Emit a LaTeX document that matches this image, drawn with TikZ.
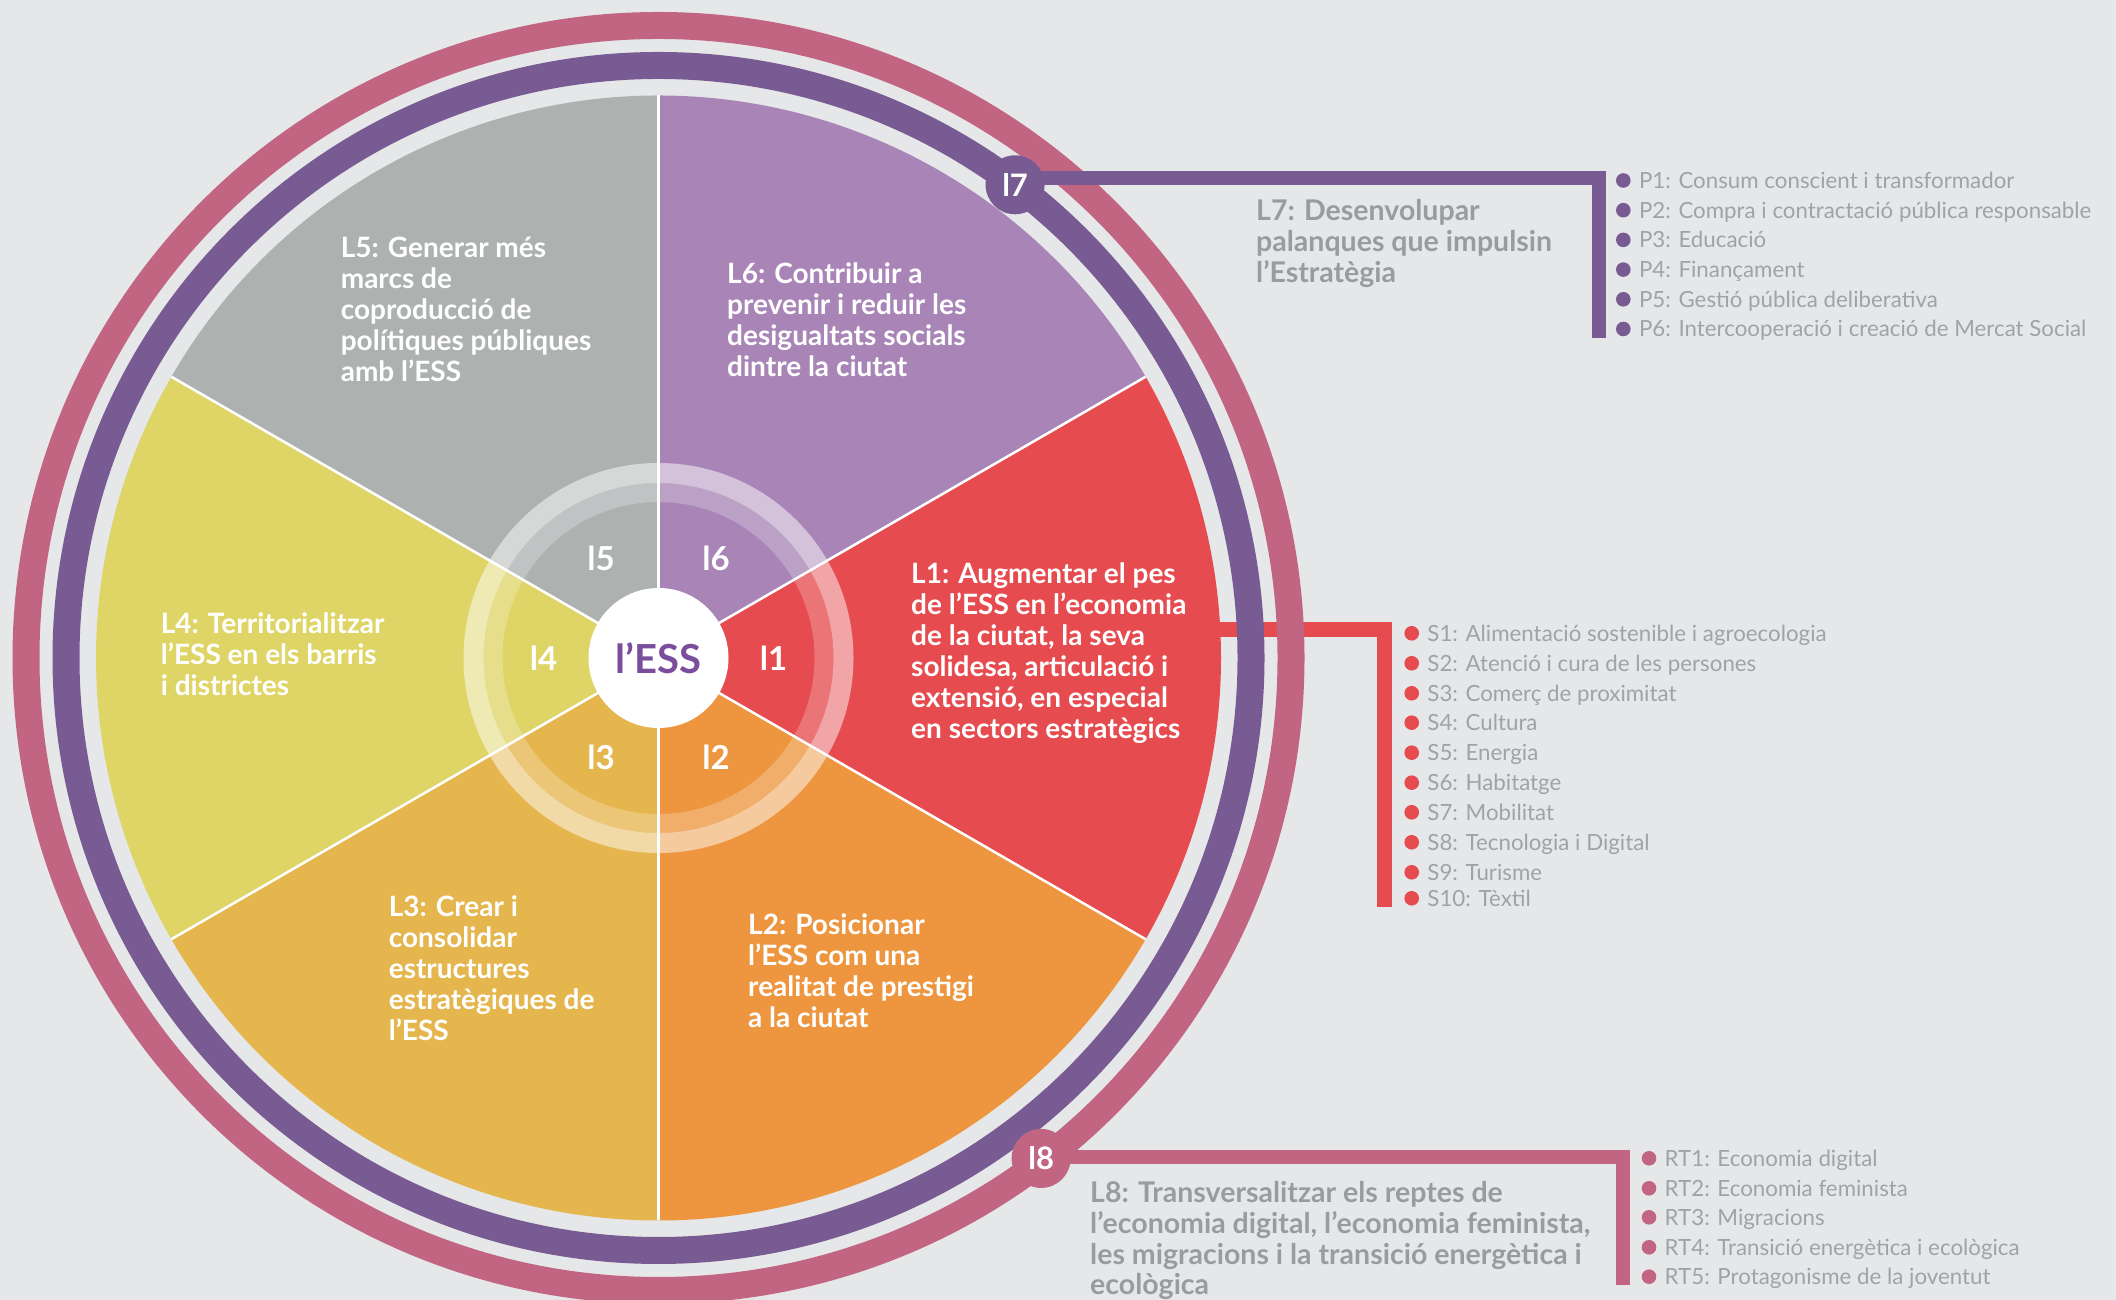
\documentclass[tikz,border=0pt]{standalone}
\usepackage{fontspec}
\setmainfont{Lato}
\usetikzlibrary{positioning}

\definecolor{bgcol}{HTML}{E6E7E8}
\definecolor{colA}{HTML}{E54B4F}
\definecolor{colB}{HTML}{EE963F}
\definecolor{colC}{HTML}{E5B54E}
\definecolor{colD}{HTML}{DFD567}
\definecolor{colE}{HTML}{ADB2B1}
\definecolor{colF}{HTML}{A985B7}
\definecolor{ringpurple}{HTML}{785B92}
\definecolor{ringpink}{HTML}{C16583}
\definecolor{esspurple}{HTML}{7A4E9C}
\definecolor{titlegray}{HTML}{999C9D}
\definecolor{listgray}{HTML}{A0A3A4}

\begin{document}
\begin{tikzpicture}[x=1pt,y=1pt,
    wheeltext/.style={anchor=base west, align=left, inner sep=0pt, text=white,
        font=\bfseries\fontsize{28}{31}\selectfont},
    ringlabel/.style={text=white, inner sep=0pt, font=\bfseries\fontsize{33}{33}\selectfont},
    badge/.style={circle, minimum size=59pt, inner sep=0pt, text=white,
        font=\bfseries\fontsize{31}{31}\selectfont},
    title/.style={anchor=base west, align=left, inner sep=0pt, text=titlegray,
        font=\bfseries\fontsize{28.5}{31}\selectfont},
    dot/.style={circle, minimum size=14.6pt, inner sep=0pt},
    item/.style={anchor=base west, inner sep=0pt, text=listgray,
        font=\fontsize{22.3}{26}\selectfont},
    link/.style={line width=14pt, line join=miter}]
  \useasboundingbox (0,0) rectangle (2116,1300);
  \fill[bgcol] (0,0) rectangle (2116,1300);

  % the wheel
  \begin{scope}[shift={(658.5,642)}]
    \foreach \a/\c in {-30/colA, 30/colF, 90/colE, 150/colD, 210/colC, 270/colB}
      \fill[\c] (0,0) -- (\a:562.5) arc[start angle=\a, end angle=\a+60, radius=562.5] -- cycle;
    \fill[white, opacity=.5, even odd rule] (0,0) circle (195) circle (175);
    \fill[white, opacity=.23, even odd rule] (0,0) circle (175) circle (156);
    \foreach \a in {30,90,...,330}
      \draw[white, line width=2.5pt] (0,0) -- (\a:562.5);
    \node[circle, fill=white, minimum size=140pt, inner sep=0pt, text=esspurple,
        font=\bfseries\fontsize{40}{40}\selectfont] (ess) at (0,0) {l’ESS};
    \foreach \a/\t in {0/1, 60/6, 120/5, 180/4, 240/3, 300/2}
      \node[ringlabel] (n\t) at (\a:115) {l\t};
    \coordinate (c7) at (53:592.5);
    \coordinate (c8) at (-52.6:630);
  \end{scope}

  % L1 link, under the rings
  \coordinate (s1) at (1200,670);
  \coordinate (k1) at (1384,670);
  \coordinate (e1) at (1384,393);
  \draw[link, colA, line width=15pt] (s1) -- (k1) -- (e1);

  \begin{scope}[shift={(658.5,642)}]
    \draw[ringpurple, line width=27pt] (0,0) circle (592.5);
    \draw[ringpink, line width=27pt] (0,0) circle (632.5);
  \end{scope}

  % L7 and L8 links
  \coordinate (k7) at (1599,1121.7);
  \coordinate (e7) at (1599,961.7);
  \draw[link, ringpurple] (c7 |- k7) -- (k7) -- (e7);
  \node[badge, fill=ringpurple] (b7) at (c7) {l7};

  \coordinate (k8) at (1623,143.3);
  \coordinate (e8) at (1623,15);
  \draw[link, ringpink] (c8 |- k8) -- (k8) -- (e8);
  \node[badge, fill=ringpink] (b8) at (c8) {l8};

  % texts of the wheel (placed by the baseline of their last line)
  \node[wheeltext] (t1) at (911,561) {L1: Augmentar el pes\\de l’ESS en l’economia\\de la ciutat, la seva\\solidesa, articulació i\\extensió, en especial\\en sectors estratègics};
  \node[wheeltext] (t2) at (748,272) {L2: Posicionar\\l’ESS com una\\realitat de prestigi\\a la ciutat};
  \node[wheeltext] (t3) at (388.6,259) {L3: Crear i\\consolidar\\estructures\\estratègiques de\\l’ESS};
  \node[wheeltext] (t4) at (160.7,604) {L4: Territorialitzar\\l’ESS en els barris\\i districtes};
  \node[wheeltext] (t5) at (340.6,918.5) {L5: Generar més\\marcs de\\coproducció de\\polítiques públiques\\amb l’ESS};
  \node[wheeltext] (t6) at (727,923) {L6: Contribuir a\\prevenir i reduir les\\desigualtats socials\\dintre la ciutat};

  \node[title] (t7) at (1256,1017) {L7: Desenvolupar\\palanques que impulsin\\l’Estratègia};
  \node[title] (t8) at (1090,5) {L8: Transversalitzar els reptes de\\l’economia digital, l’economia feminista,\\les migracions i la transició energètica i\\ecològica};

  % lists
  \foreach \t [count=\i] in {P1: Consum conscient i transformador,
      P2: Compra i contractació pública responsable, P3: Educació,
      P4: Finançament, P5: Gestió pública deliberativa,
      P6: Intercooperació i creació de Mercat Social}
  {
    \node[dot, fill=ringpurple] (p\i) at (1623.3,1119.5-29.7*\i+29.7) {};
    \node[item] (tp\i) at ([xshift=8pt,yshift=-8pt]p\i.east) {\t};
  }
  \foreach \y/\t [count=\i] in {666.7/S1: Alimentació sostenible i agroecologia,
      636.7/S2: Atenció i cura de les persones, 606.7/S3: Comerç de proximitat,
      577.3/S4: Cultura, 547.3/S5: Energia, 517.3/S6: Habitatge,
      487.7/S7: Mobilitat, 457.7/S8: Tecnologia i Digital,
      427.7/S9: Turisme, 401.7/S10: Tèxtil}
  {
    \node[dot, fill=colA] (s\i) at (1411.7,\y) {};
    \node[item] (ts\i) at ([xshift=8pt,yshift=-8pt]s\i.east) {\t};
  }
  \foreach \y/\t [count=\i] in {141.7/RT1: Economia digital, 111.7/RT2: Economia feminista,
      82.7/RT3: Migracions, 52.7/RT4: Transició energètica i ecològica,
      23.3/RT5: Protagonisme de la joventut}
  {
    \node[dot, fill=ringpink] (r\i) at (1649,\y) {};
    \node[item] (tr\i) at ([xshift=8pt,yshift=-8pt]r\i.east) {\t};
  }
\end{tikzpicture}
\end{document}
